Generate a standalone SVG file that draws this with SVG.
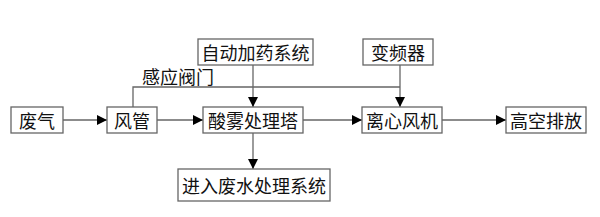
<svg xmlns="http://www.w3.org/2000/svg" width="600" height="217" viewBox="0 0 600 217">
<defs>
<marker id="ah" markerWidth="10" markerHeight="10" refX="10" refY="5" orient="auto" markerUnits="userSpaceOnUse">
<path d="M0,0 L10,5 L0,10 Z" fill="#000"/>
</marker>
<style>
rect{fill:#fff;stroke:#666;stroke-width:1.3}
text{font-family:"Noto Sans CJK SC","Noto Sans",sans-serif;font-size:18px;fill:#111;text-anchor:middle;dominant-baseline:central}
.c{fill:none;stroke:#666;stroke-width:1.3}
.a{marker-end:url(#ah)}
</style>
</defs>
<rect width="600" height="217" style="fill:#fff;stroke:none"/>
<g id="connectors">
<path class="c a" d="M63,120 H107"/>
<path class="c a" d="M157,120 H203"/>
<path class="c a" d="M303,120 H362"/>
<path class="c a" d="M442,120 H506"/>
<path class="c a" d="M253,65 V107"/>
<path class="c a" d="M400,65 V107"/>
<path class="c" d="M133,107 V87 H400"/>
<path class="c a" d="M253,133 V169"/>
<text x="178" y="76">感应阀门</text>
</g>
<g id="n1"><rect x="11" y="107" width="52" height="26"/><text x="37" y="120">废气</text></g>
<g id="n2"><rect x="107" y="107" width="50" height="26"/><text x="132" y="120">风管</text></g>
<g id="n3"><rect x="203" y="107" width="100" height="26"/><text x="253" y="120">酸雾处理塔</text></g>
<g id="n4"><rect x="362" y="107" width="80" height="26"/><text x="402" y="120">离心风机</text></g>
<g id="n5"><rect x="506" y="107" width="80" height="26"/><text x="546" y="120">高空排放</text></g>
<g id="n6"><rect x="198" y="39" width="115" height="26"/><text x="255.5" y="52">自动加药系统</text></g>
<g id="n7"><rect x="363" y="39" width="70" height="26"/><text x="398" y="52">变频器</text></g>
<g id="n8"><rect x="178" y="169" width="152" height="32"/><text x="254" y="185">进入废水处理系统</text></g>
</svg>
